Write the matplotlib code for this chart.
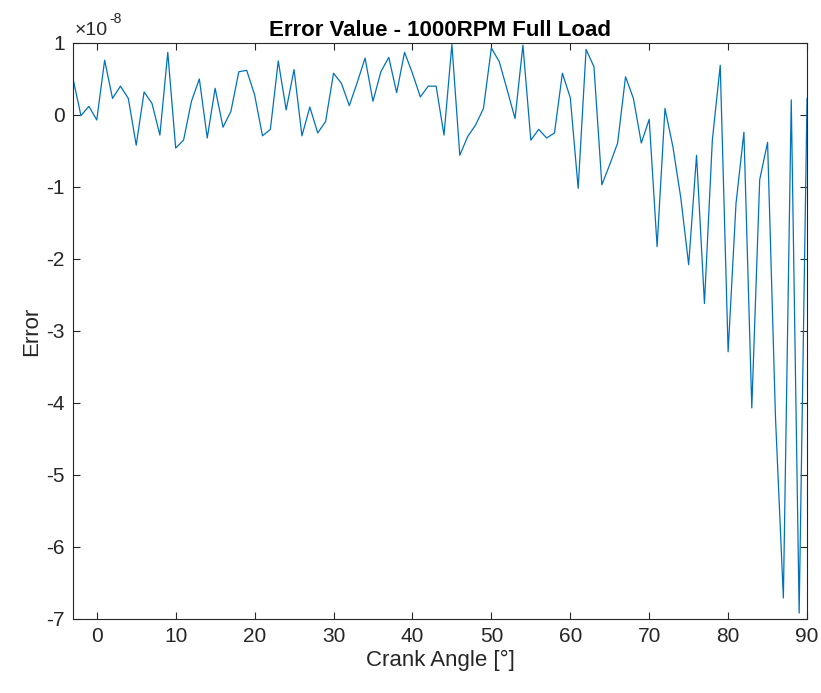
import numpy as np
import matplotlib
matplotlib.use("Agg")
import matplotlib.pyplot as plt
from matplotlib.ticker import FuncFormatter

# crank angle in degrees, one sample per degree
crank_angle = np.arange(-3, 91)

# error values in units of 1e-8
error_e8 = [
    0.50, -0.01, 0.12, -0.07, 0.76, 0.23, 0.40, 0.23, -0.42, 0.32,   # -3..6
    0.16, -0.28, 0.87, -0.46, -0.35, 0.19, 0.50, -0.32, 0.37, -0.17,  # 7..16
    0.05, 0.60, 0.62, 0.28, -0.29, -0.20, 0.75, 0.07, 0.63, -0.29,    # 17..26
    0.11, -0.25, -0.09, 0.58, 0.44, 0.13, 0.45, 0.79, 0.19, 0.60,     # 27..36
    0.80, 0.31, 0.87, 0.58, 0.25, 0.40, 0.40, -0.28, 0.98, -0.56,     # 37..46
    -0.30, -0.14, 0.09, 0.93, 0.74, 0.35, -0.05, 0.97, -0.35, -0.20,  # 47..56
    -0.32, -0.25, 0.58, 0.24, -1.02, 0.91, 0.67, -0.97, -0.69, -0.39, # 57..66
    0.53, 0.23, -0.39, -0.06, -1.83, 0.09, -0.44, -1.15, -2.08, -0.56,# 67..76
    -2.62, -0.35, 0.69, -3.29, -1.23, -0.24, -4.07, -0.90, -0.38, -4.20, # 77..86
    -6.71, 0.21, -6.92, 0.23,                                         # 87..90
]
scale = 1e-8
error = np.array(error_e8) * scale

x_ticks = np.arange(0, 91, 10)
y_ticks = np.arange(-7, 2) * scale

plt.rcParams['font.family'] = ['Liberation Sans', 'DejaVu Sans']
plt.rcParams['axes.unicode_minus'] = False
axis_grey = (0.15, 0.15, 0.15)

fig = plt.figure(figsize=(8.21, 6.93), dpi=100)
ax = fig.add_axes([0.089, 0.107, 0.894, 0.831])

ax.plot(crank_angle, error, color='#0072BD', linewidth=0.9)

ax.set_xlim(-3, 90)
ax.set_ylim(-7e-8, 1e-8)
ax.set_xticks(x_ticks)
ax.set_yticks(y_ticks)
# MATLAB style labels with a plain hyphen, exponent shown separately
ax.yaxis.set_major_formatter(FuncFormatter(lambda v, pos: f"{round(v / scale):d}"))

ax.annotate('×10', xy=(0, 1), xycoords='axes fraction', xytext=(1, 3),
            textcoords='offset points', fontsize=14, color=axis_grey,
            ha='left', va='bottom')
ax.annotate('-8', xy=(0, 1), xycoords='axes fraction', xytext=(26, 12),
            textcoords='offset points', fontsize=10, color=axis_grey,
            ha='left', va='bottom')

ax.tick_params(direction='in', top=True, right=True, length=5, width=0.8,
               labelsize=15, colors=axis_grey, pad=6)
for sp in ax.spines.values():
    sp.set_color(axis_grey)
    sp.set_linewidth(0.8)

ax.set_title('Error Value - 1000RPM Full Load', fontsize=16, fontweight='bold', pad=5)
ax.set_xlabel('Crank Angle [°]', fontsize=16, color=axis_grey, labelpad=3)
ax.set_ylabel('Error', fontsize=16, color=axis_grey, labelpad=3)

fig.savefig('out.png', dpi=100)
